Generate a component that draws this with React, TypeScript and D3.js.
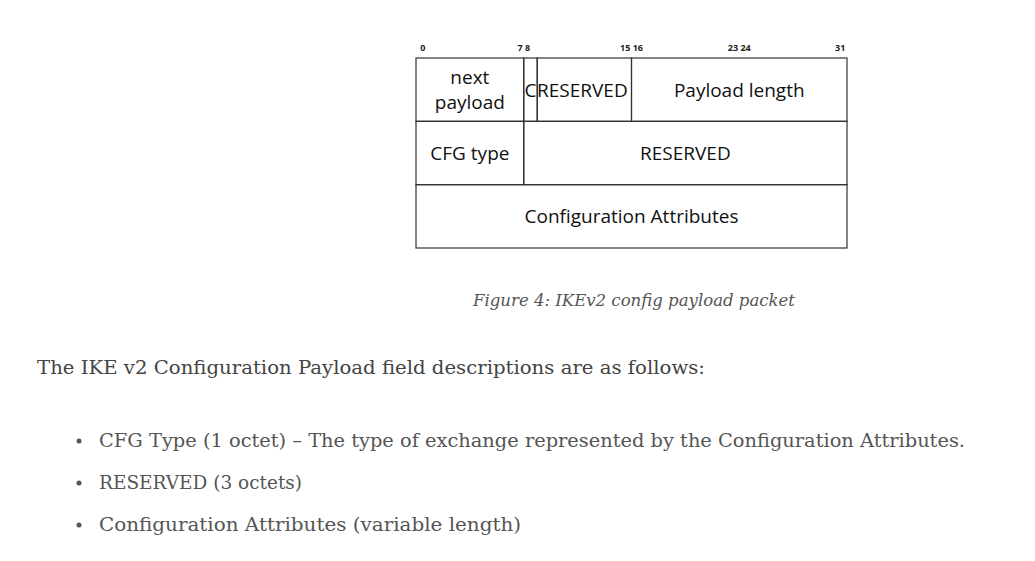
import * as d3 from "d3";

// packet fields: row, start bit, end bit (exclusive), label lines
const fieldRows = [0, 0, 0, 0, 1, 1, 2];
const fieldStarts = [0, 8, 9, 16, 0, 8, 0];
const fieldEnds = [8, 9, 16, 32, 8, 32, 32];
const fieldLabels = [["next", "payload"], ["C"], ["RESERVED"], ["Payload length"], ["CFG type"], ["RESERVED"], ["Configuration Attributes"]];
const bitTicks = ["0", "7 8", "15 16", "23 24", "31"];
const bitTickPos = [0.5, 8, 16, 24, 31.5];
const caption = "Figure 4: IKEv2 config payload packet";
const intro = "The IKE v2 Configuration Payload field descriptions are as follows:";
const bullets = [
  "CFG Type (1 octet) – The type of exchange represented by the Configuration Attributes.",
  "RESERVED (3 octets)",
  "Configuration Attributes (variable length)",
];
const bulletWidths = [866, 203, 422];

export default function App() {
  const x = d3.scaleLinear().domain([0, 32]).range([416, 847]);
  const y = d3.scaleLinear().domain([0, 3]).range([58, 248]);
  const sans = "'Open Sans', 'Noto Sans', sans-serif";
  const serif = "'DejaVu Serif', serif";
  return (
    <svg width={1035} height={561} style={{ position: "absolute", left: 0, top: 0, background: "#fff" }}>
      {bitTicks.map((t, i) => (
        <text key={t} x={x(bitTickPos[i])} y={51} fontSize={9} fontWeight="bold" fontFamily={sans} textAnchor="middle" fill="#222">{t}</text>
      ))}
      {fieldLabels.map((lines, i) => {
        const x0 = x(fieldStarts[i]);
        const x1 = x(fieldEnds[i]);
        const y0 = y(fieldRows[i]);
        const y1 = y(fieldRows[i] + 1);
        const cx = fieldStarts[i] === 9 ? (x0 + x1) / 2 - 2 : (x0 + x1) / 2;
        const cy = (y0 + y1) / 2;
        return (
          <g key={i}>
            <rect x={x0} y={y0} width={x1 - x0} height={y1 - y0} fill="none" stroke="#333" strokeWidth={1.2} />
            {lines.map((l, j) => (
              <text key={j} x={cx} y={cy + (j - (lines.length - 1) / 2) * 25 + 7} fontSize={19} fontFamily={sans} textAnchor="middle" fill="#111">{l}</text>
            ))}
          </g>
        );
      })}
      <text x={634} y={306} fontSize={16} fontStyle="italic" fontFamily={serif} textAnchor="middle" fill="#555" textLength={322} lengthAdjust="spacingAndGlyphs">{caption}</text>
      <text x={37} y={374} fontSize={19} fontFamily={serif} fill="#444" textLength={668} lengthAdjust="spacingAndGlyphs">{intro}</text>
      {bullets.map((b, i) => (
        <g key={i}>
          <circle cx={79} cy={441 + i * 42} r={2.5} fill="#555" />
          <text x={99} y={447 + i * 42} fontSize={19} fontFamily={serif} fill="#555" textLength={bulletWidths[i]} lengthAdjust="spacingAndGlyphs">{b}</text>
        </g>
      ))}
    </svg>
  );
}
